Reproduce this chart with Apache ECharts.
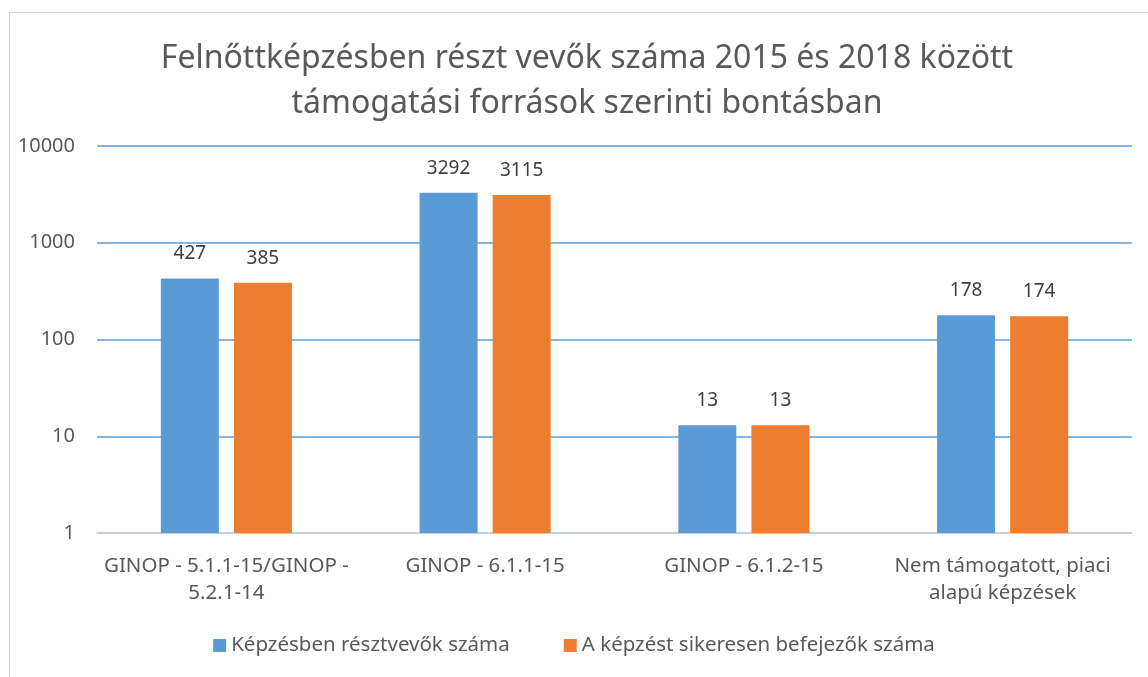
<!DOCTYPE html>
<html>
<head>
<meta charset="utf-8">
<script src="https://cdn.jsdelivr.net/npm/echarts@6/dist/echarts.min.js"></script>
<style>
  html, body { margin: 0; padding: 0; background: #fff; }
  #frame {
    position: absolute; left: 9px; top: 12px; width: 1200px; height: 700px;
    border: 1px solid #d9d9d9; box-sizing: border-box;
  }
  #chart { position: absolute; left: 0; top: 0; width: 1148px; height: 677px; }
</style>
</head>
<body>
<div id="frame"></div>
<div id="chart"></div>
<script>
// kategóriák és adatok
const categories = [
  "GINOP - 5.1.1-15/GINOP -\n5.2.1-14",
  "GINOP - 6.1.1-15",
  "GINOP - 6.1.2-15",
  "Nem támogatott, piaci\nalapú képzések"
];
const resztvevok = [427, 3292, 13, 178];
const befejezok = [385, 3115, 13, 174];
const seriesNames = ["Képzésben résztvevők száma", "A képzést sikeresen befejezők száma"];

const font = "Noto Sans";
const chart = echarts.init(document.getElementById("chart"));
chart.setOption({
  animation: false,
  title: {
    text: "Felnőttképzésben részt vevők száma 2015 és 2018 között\ntámogatási források szerinti bontásban",
    left: 582,
    top: 31,
    textAlign: "center",
    textStyle: {
      fontFamily: font,
      fontSize: 32,
      fontWeight: "normal",
      color: "#595959",
      lineHeight: 45
    }
  },
  legend: {
    bottom: 16,
    left: "center",
    itemWidth: 13,
    itemHeight: 13,
    itemGap: 54,
    icon: "rect",
    textStyle: { fontFamily: font, fontSize: 20.5, color: "#595959" },
    data: seriesNames
  },
  grid: { left: 97, right: 16, top: 146, bottom: 144 },
  xAxis: {
    type: "category",
    data: categories,
    axisLine: { lineStyle: { color: "#d9d9d9", width: 1.5 } },
    axisTick: { show: false },
    axisLabel: {
      interval: 0,
      margin: 20,
      fontFamily: font,
      fontSize: 20.5,
      color: "#595959",
      lineHeight: 27
    }
  },
  yAxis: {
    type: "log",
    logBase: 10,
    min: 1,
    max: 10000,
    axisLine: { show: false },
    axisTick: { show: false },
    splitLine: { lineStyle: { color: "#5b9bd5", width: 1.5 } },
    axisLabel: {
      fontFamily: font, fontSize: 20, color: "#595959", margin: 22,
      formatter: v => String(Math.round(v))
    }
  },
  series: [
    {
      name: seriesNames[0],
      type: "bar",
      data: resztvevok,
      barWidth: 58,
      barGap: "26%",
      itemStyle: { color: "#5b9bd5" },
      label: { show: true, position: "top", distance: 15, fontFamily: font, fontSize: 19, color: "#404040" }
    },
    {
      name: seriesNames[1],
      type: "bar",
      data: befejezok,
      barWidth: 58,
      itemStyle: { color: "#ed7d31" },
      label: { show: true, position: "top", distance: 15, fontFamily: font, fontSize: 19, color: "#404040" }
    }
  ]
});
</script>
</body>
</html>
